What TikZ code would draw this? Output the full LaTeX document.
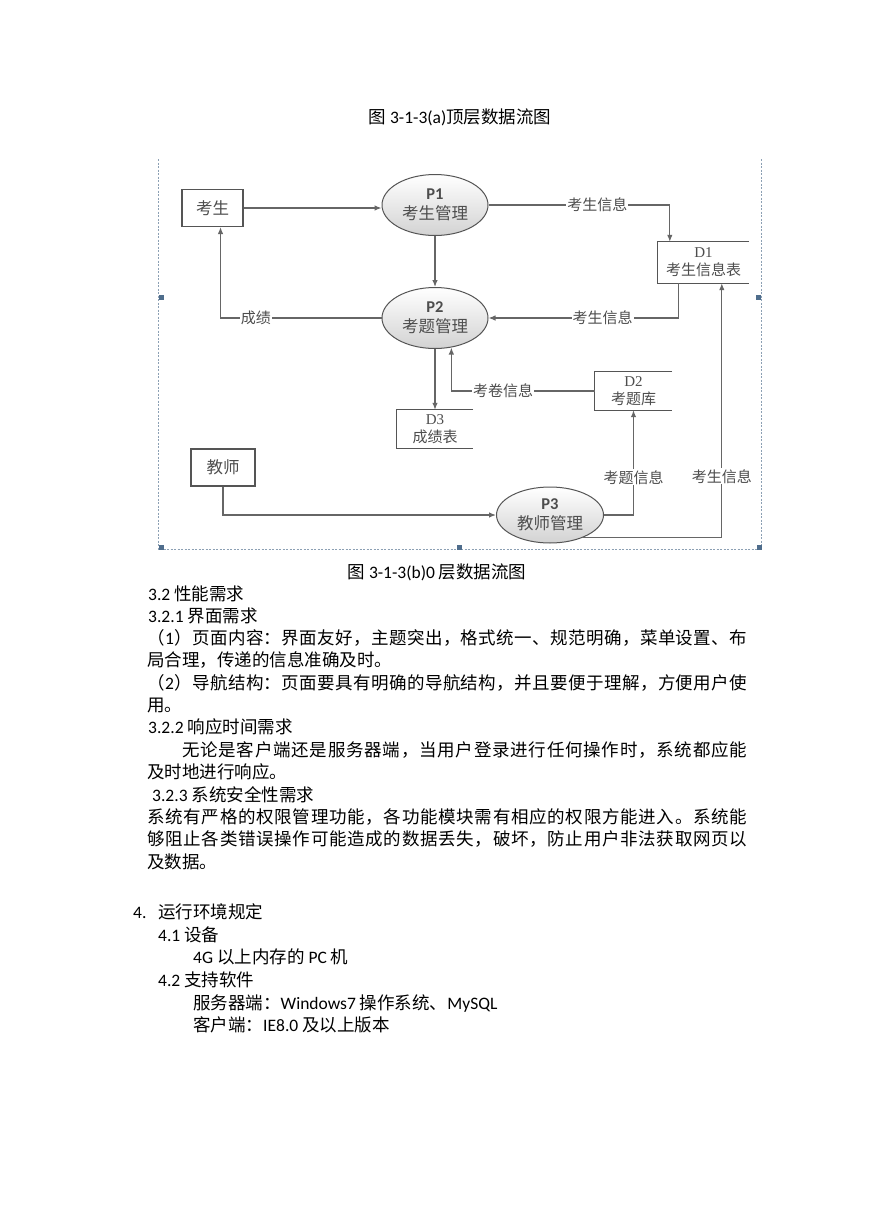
\documentclass[tikz,border=0pt]{standalone}
\usepackage{fontspec}
\setmainfont{Carlito}
\newfontfamily\cjk{Noto Sans CJK SC}
\newfontfamily\ser{Liberation Serif}
\newfontfamily\lat{Carlito}
\usetikzlibrary{arrows.meta,shapes.geometric,calc}
\definecolor{lncol}{HTML}{666666}
\definecolor{txcol}{HTML}{4D4D4D}
\definecolor{bxcol}{HTML}{555555}
\definecolor{frmcol}{HTML}{8CA0B4}
\definecolor{hdlcol}{HTML}{4F6D8C}
\def\spread#1{#1\spreadloop}
\def\spreadloop#1{\ifx\relax#1\else\hskip 0pt plus 1fil minus 0.3pt\relax #1\expandafter\spreadloop\fi}
\def\one{{\lat 1}}
\def\two{{\lat 2}}
\begin{document}
\begin{tikzpicture}[x=1pt,y=-1pt,
  lbl/.style={fill=white,inner sep=1pt,text=txcol,font=\cjk\fontsize{15}{15}\selectfont},
  arr/.style={draw=lncol,line width=1.2pt,-{Latex[length=7pt,width=5.5pt]}},
  ent/.style={draw=bxcol,line width=1.1pt,inner sep=0pt,text=txcol,font=\cjk\fontsize{16.5}{20}\selectfont},
  proc/.style={ellipse,draw=bxcol,line width=1pt,top color=white,bottom color=gray!35,
    minimum width=106pt,minimum height=61pt,inner sep=0pt,align=center,text=txcol,
    font=\cjk\fontsize{16.5}{20}\selectfont},
  store/.style={inner sep=0pt,align=center,text=txcol,font=\cjk\fontsize{15}{18}\selectfont},
  sideline/.style={draw=bxcol,line width=1.1pt},
  framebox/.style={draw=frmcol,line width=0.8pt,dash pattern=on 2pt off 1.5pt},
  hdl/.style={fill=hdlcol,minimum size=5pt,inner sep=0pt},
  body/.style={anchor=base west,inner sep=0pt,font=\fontsize{17.5}{22}\selectfont,text=black},
  captxt/.style={anchor=base,inner sep=0pt,font=\fontsize{17.5}{22}\selectfont,text=black}
]
\fill[white] (0,0) rectangle (869,1228);
\useasboundingbox (0,0) rectangle (869,1228);

% captions
\node[captxt] (cap1) at (460,123.5) {{\cjk 图} 3-1-3(a){\cjk 顶层数据流图}};

% frame
\draw[framebox] (158,159) -- (158,549) -- (762,549);
\draw[framebox] (761,159) -- (761,549);
\node[hdl] (h1) at (161,297) {};
\node[hdl] (h2) at (758,297) {};
\node[hdl] (h3) at (161,547) {};
\node[hdl] (h4) at (459,547) {};
\node[hdl] (h5) at (759,547) {};

% nodes
\node[ent,minimum width=61pt,minimum height=37pt] (ks) at (212.5,208) {考生};
\node[ent,minimum width=64pt,minimum height=37pt] (js) at (223,467.5) {教师};
\node[proc] (p1) at (435,205) {{\lat\bfseries P1}\\考生管理};
\node[proc] (p2) at (435,318) {{\lat\bfseries P2}\\考题管理};
\node[proc,minimum width=107pt,minimum height=56pt] (p3) at (550,515) {{\lat\bfseries P3}\\教师管理};
\node[store,minimum width=91pt,minimum height=41pt] (d1) at (703.5,262.5) {{\ser D1}\\考生信息表};
\node[store,minimum width=77pt,minimum height=38pt] (d2) at (633.5,391) {{\ser D2}\\考题库};
\node[store,minimum width=76pt,minimum height=38pt] (d3) at (435,429) {{\ser D3}\\成绩表};
\draw[sideline] (d1.north east) -- (d1.north west) -- (d1.south west) -- (d1.south east);
\draw[sideline] (d2.north east) -- (d2.north west) -- (d2.south west) -- (d2.south east);
\draw[sideline] (d3.north east) -- (d3.north west) -- (d3.south west) -- (d3.south east);

% connectors
\draw[arr] (ks.east) -- (ks.east -| p1.west);
\draw[arr] (p1.east) -| node[lbl,pos=0.3] (l1) {考生信息} ($(d1.north west)+(12,0)$);
\draw[arr] ($(d1.south west)+(21,0)$) |- node[lbl,pos=0.7] (l2) {考生信息} (p2.east);
\draw[arr] (p2.west) -| node[lbl,pos=0.39] (l3) {成绩} ($(ks.south)+(8,0)$);
\draw[arr] (p1.south) -- (p2.north);
\draw[arr] (p2.south) -- (d3.north);
\draw[arr] (d2.west) -| node[lbl,pos=0.32] (l4) {考卷信息} (p2.-61);
\draw[arr] (js.south) |- (p3.west);
\draw[arr] (p3.east) -| node[lbl,pos=0.68] (l5) {考题信息} (d2.south);
\draw[arr] (p3.-34) -| node[lbl,pos=0.62] (l6) {考生信息} ($(d1.south west)+(64,0)$);

% body text
\node[captxt] (cap2) at (437,578.5) {{\cjk 图} 3-1-3(b)0 {\cjk 层数据流图}};
\node[body] (t1) at (148,600.5) {3.2 {\cjk 性能需求}};
\node[body] (t2) at (148,622.5) {3.2.1 {\cjk 界面需求}};
\node[body] (t3) at (147,644.5) {\hbox to 600pt{\cjk\spread（\one）页面内容：界面友好，主题突出，格式统一、规范明确，菜单设置、布\relax}};
\node[body] (t4) at (147,666.5) {{\cjk 局合理，传递的信息准确及时。}};
\node[body] (t5) at (147,689.5) {\hbox to 600pt{\cjk\spread（\two）导航结构：页面要具有明确的导航结构，并且要便于理解，方便用户使\relax}};
\node[body] (t6) at (147,711.5) {{\cjk 用。}};
\node[body] (t7) at (148,733.5) {3.2.2 {\cjk 响应时间需求}};
\node[body] (t8) at (182,756.5) {\hbox to 565pt{\cjk\spread 无论是客户端还是服务器端，当用户登录进行任何操作时，系统都应能\relax}};
\node[body] (t9) at (147,778.5) {{\cjk 及时地进行响应。}};
\node[body] (t10) at (152,801.5) {3.2.3 {\cjk 系统安全性需求}};
\node[body] (t11) at (147,823.5) {\hbox to 600pt{\cjk\spread 系统有严格的权限管理功能，各功能模块需有相应的权限方能进入。系统能\relax}};
\node[body] (t12) at (147,845.5) {\hbox to 600pt{\cjk\spread 够阻止各类错误操作可能造成的数据丢失，破坏，防止用户非法获取网页以\relax}};
\node[body] (t13) at (147,868.5) {{\cjk 及数据。}};
\node[body] (t14) at (133,918.5) {\makebox[25pt][l]{4.}{\cjk 运行环境规定}};
\node[body] (t15) at (158,941.5) {4.1 {\cjk 设备}};
\node[body] (t16) at (193,963.5) {4G {\cjk 以上内存的} PC {\cjk 机}};
\node[body] (t17) at (158,986.5) {4.2 {\cjk 支持软件}};
\node[body] (t18) at (193,1009.5) {{\cjk 服务器端：}Windows7 {\cjk 操作系统、}MySQL};
\node[body] (t19) at (193,1031.5) {{\cjk 客户端：}IE8.0 {\cjk 及以上版本}};
\end{tikzpicture}
\end{document}
